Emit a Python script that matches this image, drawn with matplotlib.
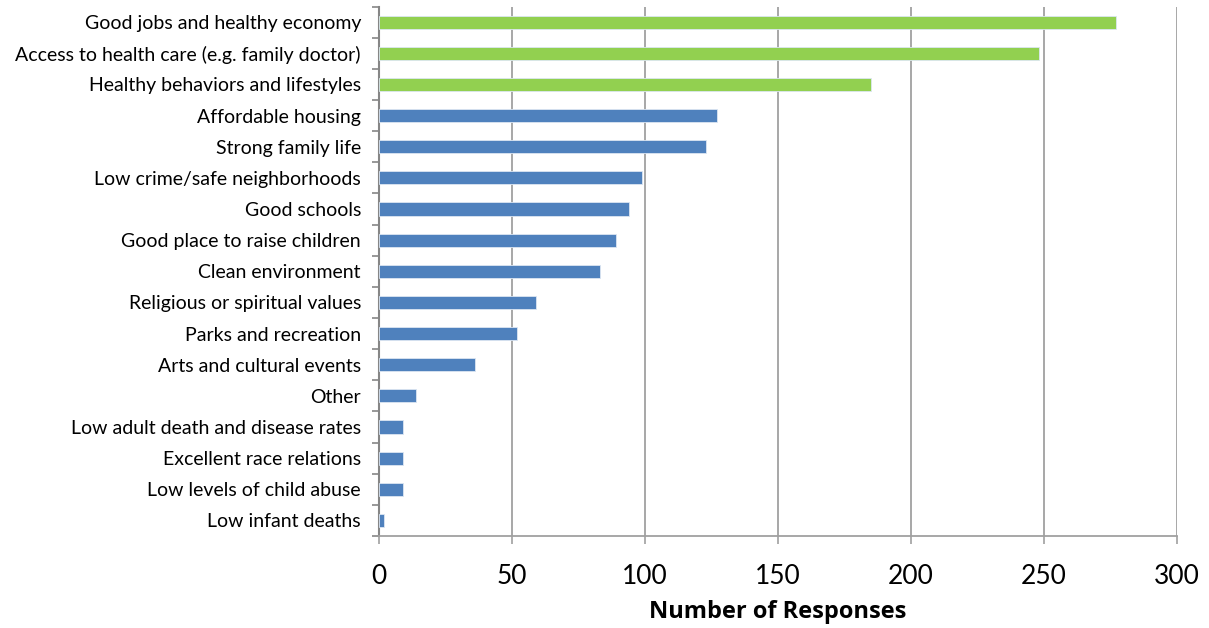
import numpy as np
import matplotlib
matplotlib.use('Agg')
import matplotlib.pyplot as plt

plt.rcParams['font.family'] = ['Lato', 'DejaVu Sans']

# 回答类别（从上到下）
categories = ['Good jobs and healthy economy',
              'Access to health care (e.g. family doctor)',
              'Healthy behaviors and lifestyles',
              'Affordable housing',
              'Strong family life',
              'Low crime/safe neighborhoods',
              'Good schools',
              'Good place to raise children',
              'Clean environment',
              'Religious or spiritual values',
              'Parks and recreation',
              'Arts and cultural events',
              'Other',
              'Low adult death and disease rates',
              'Excellent race relations',
              'Low levels of child abuse',
              'Low infant deaths']
responses = [277, 248, 185, 127, 123, 99, 94, 89, 83, 59, 52, 36, 14, 9, 9, 9, 2]
top_n = 3      # 前三名用绿色
x_ticks = [0, 50, 100, 150, 200, 250, 300]

green = '#92D050'
blue = '#4F81BD'
colors = [green if i < top_n else blue for i in range(len(categories))]

fig = plt.figure(figsize=(12.09, 6.28), dpi=100)
ax = fig.add_axes([0.3135, 0.1465, 0.66, 0.8431])

y = np.arange(len(categories))
ax.barh(y, responses, height=0.42, color=colors, edgecolor='#DCE6F2', linewidth=0.6, zorder=3)

ax.set_ylim(len(categories) - 0.5, -0.5)
ax.set_xlim(0, 300)
ax.set_xticks(x_ticks)
ax.set_xticklabels([str(t) for t in x_ticks], fontsize=19)
ax.set_yticks(y)
ax.set_yticklabels(categories, fontsize=14)
ax.set_yticks(np.arange(len(categories) + 1) - 0.5, minor=True)

ax.tick_params(axis='y', which='major', length=0, pad=13, colors='black')
ax.tick_params(axis='y', which='minor', length=5, width=1.2, color='#868686')
ax.tick_params(axis='x', length=6, width=1.2, color='#A0A0A0', pad=14)

ax.grid(axis='x', color='#A0A0A0', linewidth=1.3, zorder=0)
for s in ['top', 'right']:
    ax.spines[s].set_visible(False)
ax.spines['left'].set_color('#868686')
ax.spines['left'].set_linewidth(1.5)
ax.spines['bottom'].set_color('#A0A0A0')
ax.spines['bottom'].set_linewidth(1.3)

ax.set_xlabel('Number of Responses', fontsize=17, fontweight='bold',
              fontfamily=['Open Sans', 'DejaVu Sans'])
ax.xaxis.set_label_coords(0.5, -0.12)

plt.savefig('out.png', dpi=100)
